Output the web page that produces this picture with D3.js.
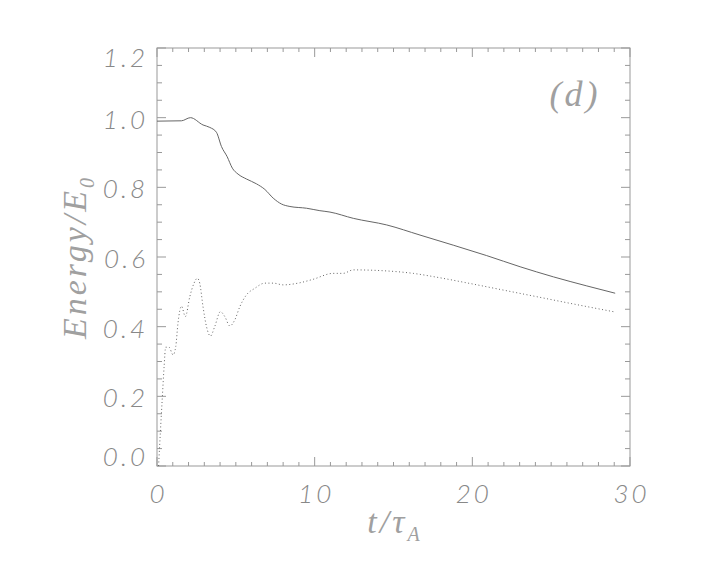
<!DOCTYPE html>
<html lang="en">
  <head>
    <meta charset="utf-8" />
    <script src="https://cdn.jsdelivr.net/npm/d3@7/dist/d3.min.js"></script>
    <style>
      body { margin: 0; background: #fff; }
      .tick-label { font-family: Lato, "DejaVu Sans", sans-serif; font-weight: 300; font-style: italic; fill: #888; letter-spacing: 3px; }
      .title { font-family: "Liberation Serif", serif; font-style: italic; fill: #a0a0a0; }
    </style>
  </head>
  <body>
    <div id="container"></div>
    <script>
      const width = 708;
      const height = 566;

      // solid curve: total energy
      const solidT = [0, 1.55, 2.12, 2.92, 3.35, 3.77, 4.09, 4.45, 4.78, 5.14, 5.67, 6.31, 6.84, 7.37, 7.9, 8.43, 9.48, 10.33, 10.97, 12.45, 14.57, 16.68, 18.79, 20.91, 23.03, 25.14, 27.26, 29.06];
      const solidE = [0.99, 0.991, 1.0, 0.979, 0.972, 0.958, 0.917, 0.888, 0.855, 0.838, 0.824, 0.81, 0.794, 0.769, 0.752, 0.745, 0.74, 0.733, 0.729, 0.711, 0.692, 0.663, 0.634, 0.604, 0.572, 0.543, 0.517, 0.496];

      // dotted curve
      const dotT = [0.1, 0.21, 0.34, 0.45, 0.55, 0.76, 1.02, 1.19, 1.33, 1.55, 1.8, 2.08, 2.35, 2.56, 2.71, 2.92, 3.14, 3.39, 3.66, 4.02, 4.3, 4.62, 4.93, 5.25, 5.67, 6.2, 6.84, 7.37, 8.0, 9.06, 9.9, 11.17, 11.8, 12.45, 14.57, 16.25, 17.74, 19.85, 21.97, 24.09, 26.2, 28.95];
      const dotE = [0.0, 0.094, 0.199, 0.285, 0.341, 0.341, 0.319, 0.343, 0.41, 0.459, 0.429, 0.486, 0.525, 0.539, 0.525, 0.457, 0.4, 0.373, 0.4, 0.443, 0.429, 0.402, 0.419, 0.457, 0.491, 0.51, 0.525, 0.525, 0.52, 0.526, 0.536, 0.553, 0.553, 0.563, 0.56, 0.553, 0.542, 0.524, 0.505, 0.486, 0.467, 0.443];

      const xTicks = [0, 10, 20, 30];
      const yTicks = [0.0, 0.2, 0.4, 0.6, 0.8, 1.0, 1.2];

      const margin = { left: 157, right: 78, top: 48, bottom: 100 };
      const x = d3.scaleLinear().domain([0, 30]).range([margin.left, width - margin.right]);
      const y = d3.scaleLinear().domain([0, 1.2]).range([height - margin.bottom, margin.top]);

      const svg = d3.select("#container").append("svg").attr("width", width).attr("height", height);
      const axisColor = "#999";

      // frame
      svg.append("rect")
        .attr("x", x(0)).attr("y", y(1.2))
        .attr("width", x(30) - x(0)).attr("height", y(0) - y(1.2))
        .attr("fill", "none").attr("stroke", axisColor).attr("stroke-width", 1);

      // ticks on all four sides (pointing inward)
      const xMinor = d3.range(0, 31, 1);
      const yMinor = d3.range(0, 1.2001, 0.05);
      const tk = svg.append("g").attr("stroke", axisColor).attr("stroke-width", 1);
      xMinor.forEach((t) => {
        const len = t % 10 === 0 ? 9 : 4;
        tk.append("line").attr("x1", x(t)).attr("x2", x(t)).attr("y1", y(0)).attr("y2", y(0) - len);
        tk.append("line").attr("x1", x(t)).attr("x2", x(t)).attr("y1", y(1.2)).attr("y2", y(1.2) + len);
      });
      yMinor.forEach((v, i) => {
        const len = i % 4 === 0 ? 9 : 5;
        tk.append("line").attr("x1", x(0)).attr("x2", x(0) + len).attr("y1", y(v)).attr("y2", y(v));
        tk.append("line").attr("x1", x(30)).attr("x2", x(30) - len).attr("y1", y(v)).attr("y2", y(v));
      });

      // tick labels
      svg.selectAll(".xl").data(xTicks).enter().append("text")
        .attr("class", "tick-label")
        .attr("x", (d) => x(d) + 1.5).attr("y", y(0) + 37)
        .attr("text-anchor", "middle").attr("font-size", 26)
        .text((d) => d);

      // end labels sit inside the frame, like the original
      svg.selectAll(".yl").data(yTicks).enter().append("text")
        .attr("class", "tick-label")
        .attr("x", x(0) - 9).attr("y", (d) => Math.min(Math.max(y(d) + 11, y(1.2) + 19), y(0)))
        .attr("text-anchor", "end").attr("font-size", 26)
        .text((d) => d.toFixed(1));

      // curves
      const line = d3.line().curve(d3.curveMonotoneX);
      svg.append("path")
        .attr("d", line(solidT.map((t, i) => [x(t), y(solidE[i])])))
        .attr("fill", "none").attr("stroke", "#666").attr("stroke-width", 1);
      svg.append("path")
        .attr("d", line(dotT.map((t, i) => [x(t), y(dotE[i])])))
        .attr("fill", "none").attr("stroke", "#666").attr("stroke-width", 1)
        .attr("stroke-dasharray", "1,2.5");

      // axis titles
      const xt = svg.append("text").attr("class", "title")
        .attr("x", 395).attr("y", 533).attr("text-anchor", "middle").attr("font-size", 34)
        .attr("letter-spacing", 3);
      xt.append("tspan").text("t/τ");
      xt.append("tspan").attr("font-size", 20).attr("dy", 8).text("A");

      const yt = svg.append("text").attr("class", "title")
        .attr("transform", `translate(86, ${(y(0) + y(1.2)) / 2}) rotate(-90)`)
        .attr("text-anchor", "middle").attr("font-size", 34)
        .attr("letter-spacing", 3);
      yt.append("tspan").text("Energy/E");
      yt.append("tspan").attr("font-size", 20).attr("dy", 8).text("0");

      svg.append("text").attr("class", "title")
        .attr("x", 575).attr("y", 106).attr("text-anchor", "middle").attr("font-size", 36)
        .attr("letter-spacing", 3)
        .text("(d)");
    </script>
  </body>
</html>
